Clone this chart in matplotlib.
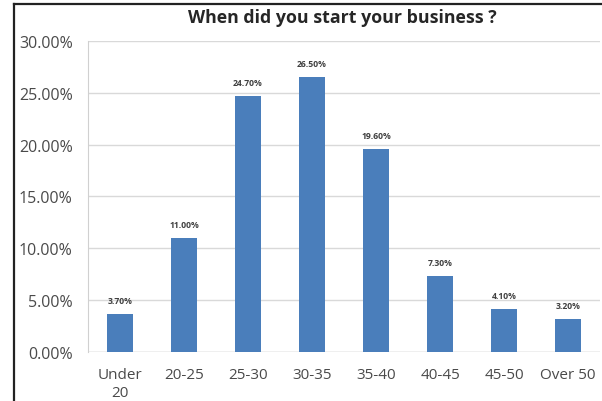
import matplotlib.pyplot as plt
from matplotlib.lines import Line2D
from matplotlib.ticker import FuncFormatter

categories = ["Under\n20", "20-25", "25-30", "30-35", "35-40", "40-45", "45-50", "Over 50"]
shares = [3.70, 11.00, 24.70, 26.50, 19.60, 7.30, 4.10, 3.20]
yticks = [0, 5, 10, 15, 20, 25, 30]

plt.rcParams['font.family'] = ['Open Sans', 'DejaVu Sans']

fig = plt.figure(figsize=(6.02, 4.02), dpi=100)
ax = fig.add_axes([0.146, 0.122, 0.851, 0.774])

x = range(len(categories))
bars = ax.bar(x, shares, width=0.4, color='#4a7ebb', zorder=3)

# data labels above bars
for b, v in zip(bars, shares):
    ax.text(b.get_x() + b.get_width() / 2, v + 1.3, f"{v:.2f}%",
            ha='center', va='center', fontsize=6.2, fontweight='bold', color='#404040')

ax.set_xlim(-0.5, len(categories) - 0.5)
ax.set_ylim(0, 30)
ax.set_yticks(yticks)
ax.yaxis.set_major_formatter(FuncFormatter(lambda v, p: f"{v:.2f}%"))
ax.set_xticks(list(x))
ax.set_xticklabels(categories, linespacing=1.25)
ax.tick_params(axis='y', length=0, pad=11, labelsize=11.5, labelcolor='#4a4a4a')
ax.tick_params(axis='x', length=0, pad=11, labelsize=11, labelcolor='#4a4a4a')

ax.grid(axis='y', color='#d9d9d9', linewidth=1, zorder=0)
for s in ['top', 'right', 'bottom']:
    ax.spines[s].set_visible(False)
ax.spines['left'].set_color('#d0d0d0')
ax.axhline(0, color='#d0d0d0', linewidth=1, zorder=2)

fig.text(0.568, 0.955, "When did you start your business ?", ha='center', va='center',
         fontsize=12.8, fontweight='bold', color='#262626')

# dark frame on the left and top edges
fig.add_artist(Line2D([0.024, 0.024], [0, 0.988], transform=fig.transFigure, color='#222222', linewidth=1.6))
fig.add_artist(Line2D([0.024, 1.0], [0.988, 0.988], transform=fig.transFigure, color='#222222', linewidth=1.6))

fig.savefig("out.png", dpi=100)
